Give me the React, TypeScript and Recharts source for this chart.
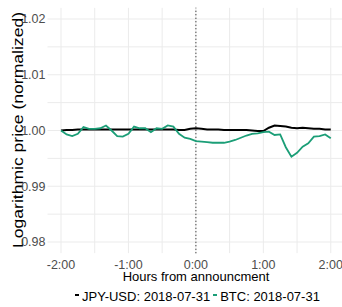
import React from "react";
import {
  LineChart,
  Line,
  XAxis,
  YAxis,
  CartesianGrid,
  ReferenceLine,
  Legend,
} from "recharts";

// minutes from announcement, 5-minute steps
const minutes = [
  -120, -115, -110, -105, -100, -95, -90, -85, -80, -75, -70, -65, -60, -55, -50, -45, -40,
  -35, -30, -25, -20, -15, -10, -5, 0, 5, 10, 15, 20, 25, 30, 35, 40, 45, 50, 55, 60, 65,
  70, 75, 80, 85, 90, 95, 100, 105, 110, 115, 120,
];

const jpyUsd = [
  1.0, 1.0001, 1.0001, 1.0002, 1.0002, 1.0002, 1.0002, 1.0002, 1.0002, 1.0002, 1.0002,
  1.0002, 1.0002, 1.0002, 1.0002, 1.0002, 1.0002, 1.0002, 1.0002, 1.0002, 1.0002, 1.0001,
  1.0001, 1.0003, 1.0004, 1.0003, 1.0002, 1.0002, 1.0002, 1.0001, 1.0001, 1.0001, 1.0001,
  1.0001, 1.0, 0.9999, 0.9999, 1.0005, 1.0009, 1.0008, 1.0007, 1.0005, 1.0004, 1.0005,
  1.0004, 1.0003, 1.0003, 1.0002, 1.0002,
];

const btc = [
  1.0, 0.9993, 0.999, 0.9994, 1.0006, 1.0003, 1.0003, 1.0004, 1.0009, 1.0, 0.999, 0.9989,
  0.9994, 1.0007, 1.0004, 1.0004, 0.9997, 1.0004, 1.0003, 1.0009, 1.0007, 0.9994, 0.9987,
  0.9985, 0.9981, 0.998, 0.9979, 0.9978, 0.9978, 0.9978, 0.998, 0.9983, 0.9987, 0.9991,
  0.9994, 0.9995, 0.9997, 0.9998, 0.9992, 0.9993, 0.997, 0.9953, 0.996, 0.9971, 0.9977,
  0.9989, 0.999, 0.9993, 0.9986,
];

const seriesNames = ["JPY-USD: 2018-07-31", "BTC: 2018-07-31"];
const seriesColors = ["#000000", "#1b9e77"];

const xTicks = [-120, -60, 0, 60, 120];
const xTickLabels = ["-2:00", "-1:00", "0:00", "1:00", "2:00"];
const yTicks = [0.98, 0.99, 1.0, 1.01, 1.02];
const xGrid = [-120, -90, -60, -30, 0, 30, 60, 90, 120];
const yGrid = [0.98, 0.985, 0.99, 0.995, 1.0, 1.005, 1.01, 1.015, 1.02];

const data = minutes.map((m, i) => ({ m, jpy: jpyUsd[i], btc: btc[i] }));

const FONT = "'Liberation Sans', Arial, sans-serif";

function LegendContent() {
  return (
    <div
      style={{
        display: "flex",
        justifyContent: "flex-start",
        alignItems: "center",
        fontFamily: FONT,
        fontSize: 13,
        lineHeight: "16px",
        color: "#000",
        paddingLeft: 75,
        whiteSpace: "nowrap",
      }}
    >
      {seriesNames.map((name, i) => (
        <span key={name} style={{ display: "flex", alignItems: "center", marginRight: 3 }}>
          <span
            style={{
              display: "inline-block",
              width: 4,
              height: 2,
              background: seriesColors[i],
              marginRight: 3,
              marginTop: -4,
            }}
          />
          {name}
        </span>
      ))}
    </div>
  );
}

export default function App() {
  return (
    <div style={{ position: "absolute", left: 0, top: 0, width: 342, height: 307, background: "#fff" }}>
      <LineChart
        width={342}
        height={307}
        data={data}
        margin={{ top: 7.85, right: 0, bottom: 23.85, left: 0 }}
        style={{ fontFamily: FONT }}
      >
        <CartesianGrid stroke="#ebebeb" strokeWidth={1} verticalValues={xGrid} horizontalValues={yGrid} />
        <XAxis
          dataKey="m"
          type="number"
          domain={[-132, 130]}
          ticks={xTicks}
          tickFormatter={(v: number) => xTickLabels[xTicks.indexOf(v)]}
          axisLine={false}
          tickLine={false}
          tickSize={0}
          tickMargin={7}
          height={30}
          tick={{ fill: "#4d4d4d", fontSize: 12.5 }}
          interval={0}
          label={{
            content: () => (
              <text x={196} y={281} textAnchor="middle" fontSize={13} fill="#000" fontFamily={FONT}>
                Hours from announcment
              </text>
            ),
          }}
        />
        <YAxis
          type="number"
          domain={[0.978, 1.022]}
          ticks={yTicks}
          tickFormatter={(v: number) => v.toFixed(2)}
          axisLine={false}
          tickLine={false}
          tickSize={0}
          tickMargin={2}
          width={47.5}
          tick={{ fill: "#4d4d4d", fontSize: 12.5 }}
          interval={0}
          label={{
            content: () => (
              <text
                x={23}
                y={130}
                transform="rotate(-90 23 130)"
                textAnchor="middle"
                fontSize={15}
                textLength={236}
                lengthAdjust="spacingAndGlyphs"
                fill="#000"
                fontFamily={FONT}
              >
                Logarithmic price (normalized)
              </text>
            ),
          }}
        />
        <ReferenceLine x={0} stroke="#333" strokeDasharray="1 2.5" strokeWidth={1.2} />
        <Line
          dataKey="jpy"
          name={seriesNames[0]}
          type="linear"
          stroke={seriesColors[0]}
          strokeWidth={2}
          dot={false}
          isAnimationActive={false}
        />
        <Line
          dataKey="btc"
          name={seriesNames[1]}
          type="linear"
          stroke={seriesColors[1]}
          strokeWidth={1.8}
          dot={false}
          isAnimationActive={false}
        />
        <Legend
          verticalAlign="middle"
          layout="horizontal"
          content={<LegendContent />}
          wrapperStyle={{ top: 289, left: 0, width: 342 }}
        />
      </LineChart>
    </div>
  );
}
